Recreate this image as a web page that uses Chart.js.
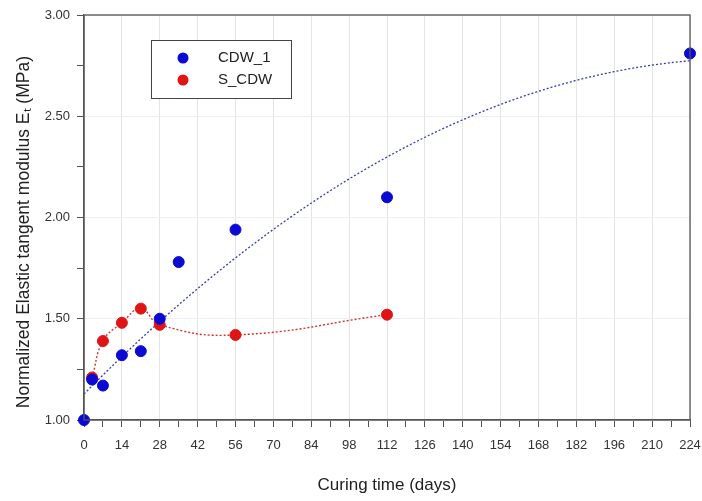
<!DOCTYPE html>
<html lang="en">
<head>
  <meta charset="UTF-8">
  <title>Normalized Elastic tangent modulus vs curing time</title>
  <script src="https://cdn.jsdelivr.net/npm/chart.js"></script>
  <style>
    html, body {
      margin: 0;
      padding: 0;
      background: #ffffff;
    }
    .chart-box {
      width: 702px;
      height: 501px;
    }
  </style>
</head>
<body>
  <div class="chart-box">
    <canvas id="modulusChart" width="702" height="501"></canvas>
  </div>

  <script>
    // Data
    const cdwDays = [0, 3, 7, 14, 21, 28, 35, 56, 112, 224];
    const cdwValues = [1.00, 1.20, 1.17, 1.32, 1.34, 1.50, 1.78, 1.94, 2.10, 2.81];
    const sDays = [3, 7, 14, 21, 28, 56, 112];
    const sValues = [1.21, 1.39, 1.48, 1.55, 1.47, 1.42, 1.52];
    const seriesNames = ['CDW_1', 'S_CDW'];
    const xTickLabels = [0, 14, 28, 42, 56, 70, 84, 98, 112, 126, 140, 154, 168, 182, 196, 210, 224];
    const yTickLabels = [1.00, 1.50, 2.00, 2.50, 3.00];

    const BLUE = '#0a0ad2';
    const RED = '#e01414';
    const FONT = "'Liberation Sans', Arial, sans-serif";

    // least squares 2nd order polynomial for the CDW_1 trend line
    function quadFit(xs, ys) {
      const s = [0, 0, 0, 0, 0];
      const t = [0, 0, 0];
      xs.forEach((x, i) => {
        for (let k = 0; k < 5; k++) s[k] += Math.pow(x, k);
        for (let k = 0; k < 3; k++) t[k] += Math.pow(x, k) * ys[i];
      });
      const m = [
        [s[0], s[1], s[2], t[0]],
        [s[1], s[2], s[3], t[1]],
        [s[2], s[3], s[4], t[2]]
      ];
      for (let c = 0; c < 3; c++) {
        for (let r = c + 1; r < 3; r++) {
          const f = m[r][c] / m[c][c];
          for (let k = c; k < 4; k++) m[r][k] -= f * m[c][k];
        }
      }
      const coef = [0, 0, 0];
      for (let r = 2; r >= 0; r--) {
        let v = m[r][3];
        for (let k = r + 1; k < 3; k++) v -= m[r][k] * coef[k];
        coef[r] = v / m[r][r];
      }
      return coef;
    }
    const cdwFit = quadFit(cdwDays, cdwValues);

    const trendPlugin = {
      id: 'trend',
      beforeDatasetsDraw(chart) {
        const { ctx, scales: { x, y } } = chart;
        ctx.save();
        ctx.beginPath();
        for (let px = x.left; px <= x.right; px++) {
          const d = x.getValueForPixel(px);
          const v = cdwFit[0] + cdwFit[1] * d + cdwFit[2] * d * d;
          const py = y.getPixelForValue(v);
          if (px === x.left) ctx.moveTo(px, py); else ctx.lineTo(px, py);
        }
        ctx.strokeStyle = '#3a3ab8';
        ctx.lineWidth = 1.3;
        ctx.setLineDash([2, 2]);
        ctx.stroke();
        ctx.restore();
      }
    };

    // frame around the plot and the boxed legend
    const framePlugin = {
      id: 'frame',
      afterDraw(chart) {
        const { ctx, chartArea: a } = chart;
        ctx.save();
        ctx.strokeStyle = '#555';
        ctx.lineWidth = 1.3;
        ctx.strokeRect(a.left, a.top, a.right - a.left, a.bottom - a.top);

        const lx = a.left + 67, ly = a.top + 25;
        ctx.fillStyle = '#fff';
        ctx.fillRect(lx, ly, 140, 58);
        ctx.strokeStyle = '#444';
        ctx.lineWidth = 1;
        ctx.strokeRect(lx + 0.5, ly + 0.5, 140, 58);
        [BLUE, RED].forEach((col, i) => {
          const cy = ly + 18 + i * 22;
          ctx.beginPath();
          ctx.arc(lx + 32, cy, 5.5, 0, Math.PI * 2);
          ctx.fillStyle = col;
          ctx.fill();
          ctx.fillStyle = '#222';
          ctx.font = '15px ' + FONT;
          ctx.textBaseline = 'middle';
          ctx.fillText(seriesNames[i], lx + 67, cy);
        });
        ctx.restore();
      }
    };

    const ctx = document.getElementById('modulusChart').getContext('2d');
    new Chart(ctx, {
      type: 'scatter',
      data: {
        datasets: [
          {
            label: seriesNames[0],
            data: cdwDays.map((d, i) => ({ x: d, y: cdwValues[i] })),
            backgroundColor: BLUE,
            borderColor: BLUE,
            pointRadius: 5.5,
            clip: false,
            order: 0
          },
          {
            label: seriesNames[1],
            data: sDays.map((d, i) => ({ x: d, y: sValues[i] })),
            backgroundColor: RED,
            borderColor: RED,
            pointRadius: 5.5,
            clip: false,
            order: 0
          },
          {
            label: 'S_CDW curve',
            data: sDays.map((d, i) => ({ x: d, y: sValues[i] })),
            showLine: true,
            tension: 0.45,
            borderColor: '#d83030',
            borderWidth: 1.4,
            borderDash: [2, 2],
            pointRadius: 0,
            order: 1
          }
        ]
      },
      options: {
        responsive: false,
        animation: false,
        layout: { padding: { left: 14, right: 0, top: 15, bottom: 2 } },
        plugins: {
          legend: { display: false },
          tooltip: { enabled: false }
        },
        scales: {
          x: {
            type: 'linear',
            min: 0,
            max: 224,
            afterFit(scale) {
              scale.height = 79;
              scale.paddingRight = 12;
            },
            ticks: {
              stepSize: 7,
              autoSkip: false,
              maxRotation: 0,
              padding: 11,
              color: '#333',
              font: { family: FONT, size: 13 },
              callback: v => xTickLabels.includes(v) ? String(v) : ''
            },
            grid: {
              tickLength: 7,
              tickColor: '#555',
              color: c => xTickLabels.includes(c.tick && c.tick.value) ? '#e4e4e4' : 'rgba(0,0,0,0)'
            },
            border: { color: '#555', width: 1.3 },
            title: {
              display: true,
              text: 'Curing time (days)',
              color: '#222',
              font: { family: FONT, size: 17 },
              padding: { top: 0, bottom: 3 }
            }
          },
          y: {
            min: 1,
            max: 3,
            afterFit(scale) { scale.width = 70; },
            ticks: {
              stepSize: 0.25,
              autoSkip: false,
              padding: 7,
              color: '#333',
              font: { family: FONT, size: 13 },
              callback: v => yTickLabels.some(t => Math.abs(t - v) < 1e-6) ? v.toFixed(2) : ''
            },
            grid: {
              tickLength: 7,
              tickColor: '#555',
              color: c => yTickLabels.some(t => Math.abs(t - (c.tick ? c.tick.value : -1)) < 1e-6) ? '#eeeeee' : 'rgba(0,0,0,0)'
            },
            border: { color: '#555', width: 1.3 },
            title: {
              display: true,
              text: 'Normalized Elastic tangent modulus E\u209C (MPa)      ',
              color: '#222',
              font: { family: FONT, size: 17.5 },
              padding: { top: 0, bottom: 0 }
            }
          }
        }
      },
      plugins: [trendPlugin, framePlugin]
    });
  </script>
</body>
</html>
